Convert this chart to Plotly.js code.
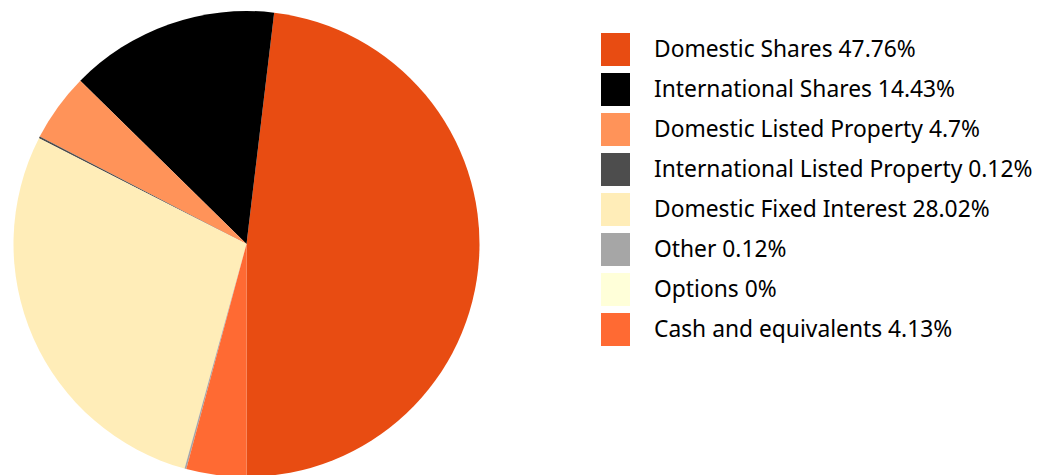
<!DOCTYPE html>
<html>
<head>
<meta charset="utf-8">
<script src="https://cdn.plot.ly/plotly-3.0.1.min.js"></script>
<style>
html, body { margin: 0; padding: 0; overflow: hidden; background: #fff; }
#chart { width: 1042px; height: 478px; }
</style>
</head>
<body>
<div id="chart"></div>
<script>
// Data
const categories = [
  "Domestic Shares",
  "International Shares",
  "Domestic Listed Property",
  "International Listed Property",
  "Domestic Fixed Interest",
  "Other",
  "Options",
  "Cash and equivalents"
];
const percentages = [47.76, 14.43, 4.7, 0.12, 28.02, 0.12, 0, 4.13];
const colors = ["#E84C12", "#000000", "#FF9359", "#4D4D4D", "#FFEDB8", "#A6A6A6", "#FFFFD9", "#FF6A33"];
const legendLabels = categories.map((c, i) => c + " " + percentages[i] + "%");

// Layout geometry (pixels)
const W = 1042, H = 478;
const cx = 246.5, cy = 244, r = 233;
const legendBoxX0 = 601, legendBoxX1 = 630, legendTop0 = 33, legendBoxH = 33, legendStep = 40, legendTextX = 652;
const FONT = "Noto Sans, sans-serif";

const px = x => x / W;
const py = y => 1 - y / H;

const shapes = [], annotations = [];
legendLabels.forEach((lab, i) => {
  const top = legendTop0 + i * legendStep;
  shapes.push({
    type: "rect", xref: "paper", yref: "paper",
    x0: px(legendBoxX0), x1: px(legendBoxX1),
    y0: py(top + legendBoxH), y1: py(top),
    fillcolor: colors[i], line: { width: 0 }
  });
  annotations.push({
    xref: "paper", yref: "paper",
    x: px(legendTextX), y: py(top + legendBoxH / 2 - 1),
    xanchor: "left", yanchor: "middle",
    text: lab, showarrow: false,
    font: { family: FONT, size: 22.8, color: "#000" }
  });
});

// Plotly's counterclockwise pies place the first slice clockwise from `rotation`,
// so start it where it must end at 6 o'clock, then the rest run counterclockwise.
const total = percentages.reduce((a, b) => a + b, 0);
const rotation = 180 - percentages[0] / total * 360;

const trace = {
  type: "pie",
  labels: categories,
  values: percentages,
  marker: { colors: colors, line: { width: 0 } },
  sort: false,
  direction: "counterclockwise",
  rotation: rotation,
  textinfo: "none",
  hoverinfo: "label+percent",
  showlegend: false,
  domain: { x: [px(cx - r), px(cx + r)], y: [py(cy + r), py(cy - r)] }
};

const layout = {
  width: W, height: H,
  margin: { l: 0, r: 0, t: 0, b: 0 },
  paper_bgcolor: "#fff",
  showlegend: false,
  shapes: shapes,
  annotations: annotations,
  font: { family: FONT }
};

Plotly.newPlot("chart", [trace], layout, { displayModeBar: false, staticPlot: true });
</script>
</body>
</html>
